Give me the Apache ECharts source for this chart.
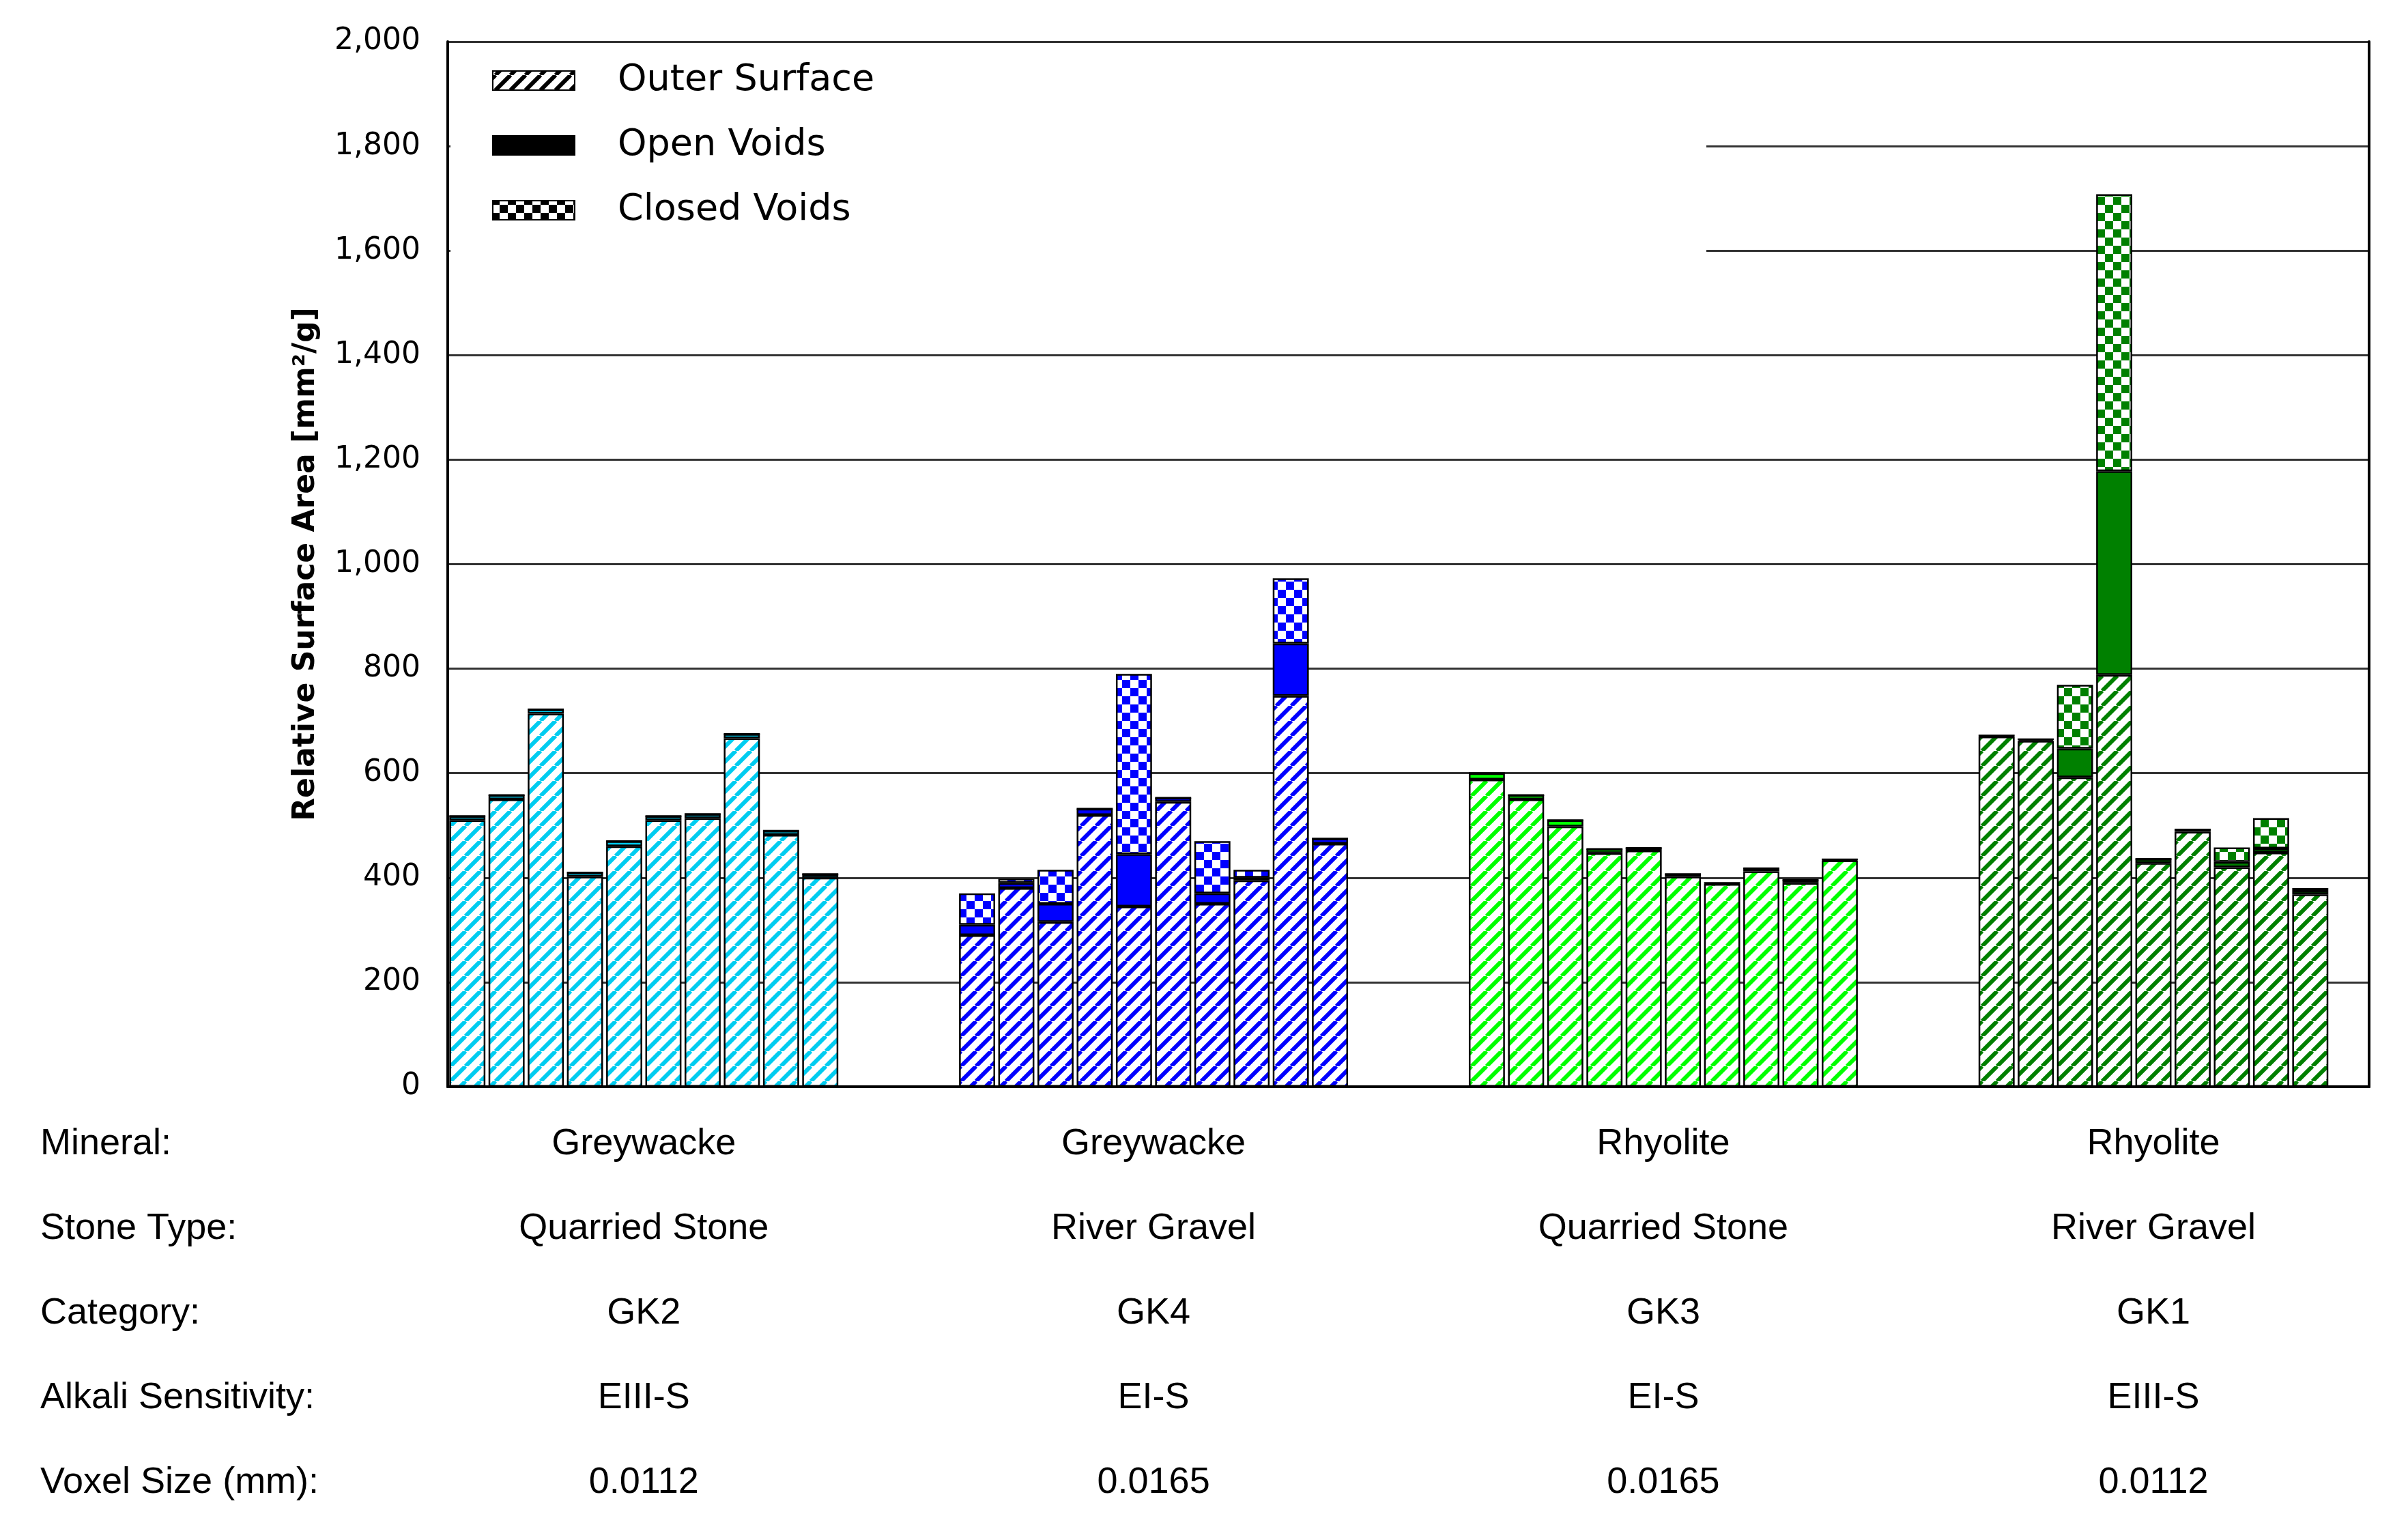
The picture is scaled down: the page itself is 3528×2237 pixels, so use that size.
<!DOCTYPE html>
<html><head><meta charset="utf-8">
<script src="https://cdn.jsdelivr.net/npm/echarts@6/dist/echarts.min.js"></script>
<style>html,body{margin:0;background:#fff}#chart{width:3528px;height:2237px}</style>
</head><body><div id="chart"></div>
<script>
// values per group: outer surface / open voids / closed voids
var gk2Outer  = [510, 550, 714, 402, 460, 510, 514, 667, 482, 400];
var gk2Open   = [8, 8, 8, 8, 10, 8, 8, 8, 8, 7];
var gk2Closed = [0, 0, 0, 0, 0, 0, 0, 0, 0, 0];
var gk4Outer  = [290, 380, 315, 520, 345, 545, 350, 395, 748, 465];
var gk4Open   = [20, 10, 35, 12, 100, 8, 20, 5, 100, 10];
var gk4Closed = [60, 8, 65, 0, 345, 0, 100, 15, 125, 0];
var gk3Outer  = [588, 550, 498, 447, 452, 402, 388, 412, 390, 433];
var gk3Open   = [12, 8, 12, 8, 5, 5, 2, 6, 6, 2];
var gk3Closed = [0, 0, 0, 0, 0, 0, 0, 0, 0, 0];
var gk1Outer  = [670, 662, 592, 788, 428, 488, 420, 448, 368];
var gk1Open   = [2, 3, 55, 390, 8, 4, 10, 8, 7];
var gk1Closed = [0, 0, 122, 530, 0, 0, 28, 58, 5];

var groupColors = ['#00CCF0', '#0000FF', '#00FF00', '#008000'];
var rowNames = ['Mineral:', 'Stone Type:', 'Category:', 'Alkali Sensitivity:', 'Voxel Size (mm):'];
var minerals = ['Greywacke', 'Greywacke', 'Rhyolite', 'Rhyolite'];
var stoneTypes = ['Quarried Stone', 'River Gravel', 'Quarried Stone', 'River Gravel'];
var categories = ['GK2', 'GK4', 'GK3', 'GK1'];
var alkali = ['EIII-S', 'EI-S', 'EI-S', 'EIII-S'];
var voxel = ['0.0112', '0.0165', '0.0165', '0.0112'];

function stripes(color){
	var c = document.createElement('canvas'); c.width = 22; c.height = 22;
	var g = c.getContext('2d');
	g.fillStyle = '#fff'; g.fillRect(0, 0, 22, 22);
	g.strokeStyle = color; g.lineWidth = 6;
	for (var k = -1; k <= 1; k++) {
		g.beginPath(); g.moveTo(k*22, 22); g.lineTo(k*22 + 22, 0); g.stroke();
	}
	return {image: c, repeat: 'repeat'};
}
function checks(color){
	var c = document.createElement('canvas'); c.width = 24; c.height = 24;
	var g = c.getContext('2d');
	g.fillStyle = '#fff'; g.fillRect(0, 0, 24, 24);
	g.fillStyle = color; g.fillRect(0, 0, 12, 12); g.fillRect(12, 12, 12, 12);
	return {image: c, repeat: 'repeat'};
}

// category slots: 10 bars, 3 gap, 10, 3, 10, 3, 9, 1
var groups = [[gk2Outer, gk2Open, gk2Closed], [gk4Outer, gk4Open, gk4Closed],
	[gk3Outer, gk3Open, gk3Closed], [gk1Outer, gk1Open, gk1Closed]];
var gaps = [3, 3, 3, 1];
var cats = [], outerData = [], openData = [], closedData = [], ranges = [];
groups.forEach(function(gr, gi){
	var start = cats.length;
	var sp = stripes(groupColors[gi]), ck = checks(groupColors[gi]);
	for (var i = 0; i < gr[0].length; i++) {
		cats.push('g' + gi + '_' + i);
		outerData.push({value: gr[0][i], itemStyle: {color: sp}});
		openData.push({value: gr[1][i], itemStyle: {color: groupColors[gi]}});
		closedData.push({value: gr[2][i], itemStyle: {color: ck}});
	}
	ranges.push([start, cats.length - 1]);
	for (var j = 0; j < gaps[gi]; j++) {
		cats.push('gap' + gi + '_' + j);
		outerData.push('-'); openData.push('-'); closedData.push('-');
	}
});

var chart = echarts.init(document.getElementById('chart'));
var barBase = {type: 'bar', stack: 'a', barCategoryGap: '8%',
	itemStyle: {borderColor: '#000', borderWidth: 2.5}, emphasis: {disabled: true}};
var option = {
	animation: false,
	textStyle: {fontFamily: 'DejaVu Sans'},
	grid: {left: 656, right: 57, top: 61, bottom: 645},
	xAxis: [
		{type: 'category', data: cats, axisLine: {lineStyle: {color: '#000', width: 4}},
		 axisTick: {show: false}, axisLabel: {show: false}},
		{type: 'category', data: cats, position: 'top', axisLine: {lineStyle: {color: '#000', width: 4}},
		 axisTick: {show: false}, axisLabel: {show: false}}
	],
	yAxis: [
		{type: 'value', min: 0, max: 2000, interval: 200,
		 name: 'Relative Surface Area [mm²/g]', nameLocation: 'middle', nameGap: 185,
		 nameTextStyle: {fontSize: 44, fontWeight: 'bold', color: '#000'},
		 axisLine: {show: true, lineStyle: {color: '#000', width: 4}},
		 axisTick: {show: false},
		 axisLabel: {fontSize: 44, color: '#000', margin: 40},
		 splitLine: {lineStyle: {color: '#333', width: 3}}},
		{type: 'value', min: 0, max: 2000, interval: 200, position: 'right',
		 axisLine: {show: true, lineStyle: {color: '#000', width: 4}},
		 axisTick: {show: false}, axisLabel: {show: false}, splitLine: {show: false}}
	],
	series: [
		Object.assign({}, barBase, {name: 'Outer Surface', data: outerData}),
		Object.assign({}, barBase, {name: 'Open Voids', data: openData}),
		Object.assign({}, barBase, {name: 'Closed Voids', data: closedData})
	]
};
chart.setOption(option);

// legend box and bottom table
var gfx = [];
var yBox = chart.convertToPixel({yAxisIndex: 0}, 1500);
gfx.push({type: 'rect', z: 1, shape: {x: 660, y: 64, width: 1840, height: yBox - 64}, style: {fill: '#fff'}});
var legItems = [['Outer Surface', stripes('#000')], ['Open Voids', '#000'], ['Closed Voids', checks('#000')]];
legItems.forEach(function(it, i){
	var yy = 118 + i * 95;
	gfx.push({type: 'rect', z: 10, shape: {x: 722, y: yy - 14, width: 120, height: 28},
		style: {fill: it[1], stroke: '#000', lineWidth: 2}});
	gfx.push({type: 'text', z: 10, x: 905, y: yy, style: {text: it[0], fontSize: 54,
		fontFamily: 'DejaVu Sans', fill: '#000', verticalAlign: 'middle'}});
});
var rows = [minerals, stoneTypes, categories, alkali, voxel];
rows.forEach(function(row, r){
	var yy = 1676 + r * 124;
	gfx.push({type: 'text', x: 59, y: yy, style: {text: rowNames[r], fontSize: 54,
		fontFamily: 'Liberation Sans', fill: '#000', verticalAlign: 'middle'}});
	row.forEach(function(txt, gi){
		var cx = (chart.convertToPixel({xAxisIndex: 0}, ranges[gi][0]) +
			chart.convertToPixel({xAxisIndex: 0}, ranges[gi][1])) / 2;
		gfx.push({type: 'text', x: cx, y: yy, style: {text: txt, fontSize: 54,
			fontFamily: 'Liberation Sans', fill: '#000', align: 'center', verticalAlign: 'middle'}});
	});
});
chart.setOption({graphic: gfx});
</script>
</body></html>
